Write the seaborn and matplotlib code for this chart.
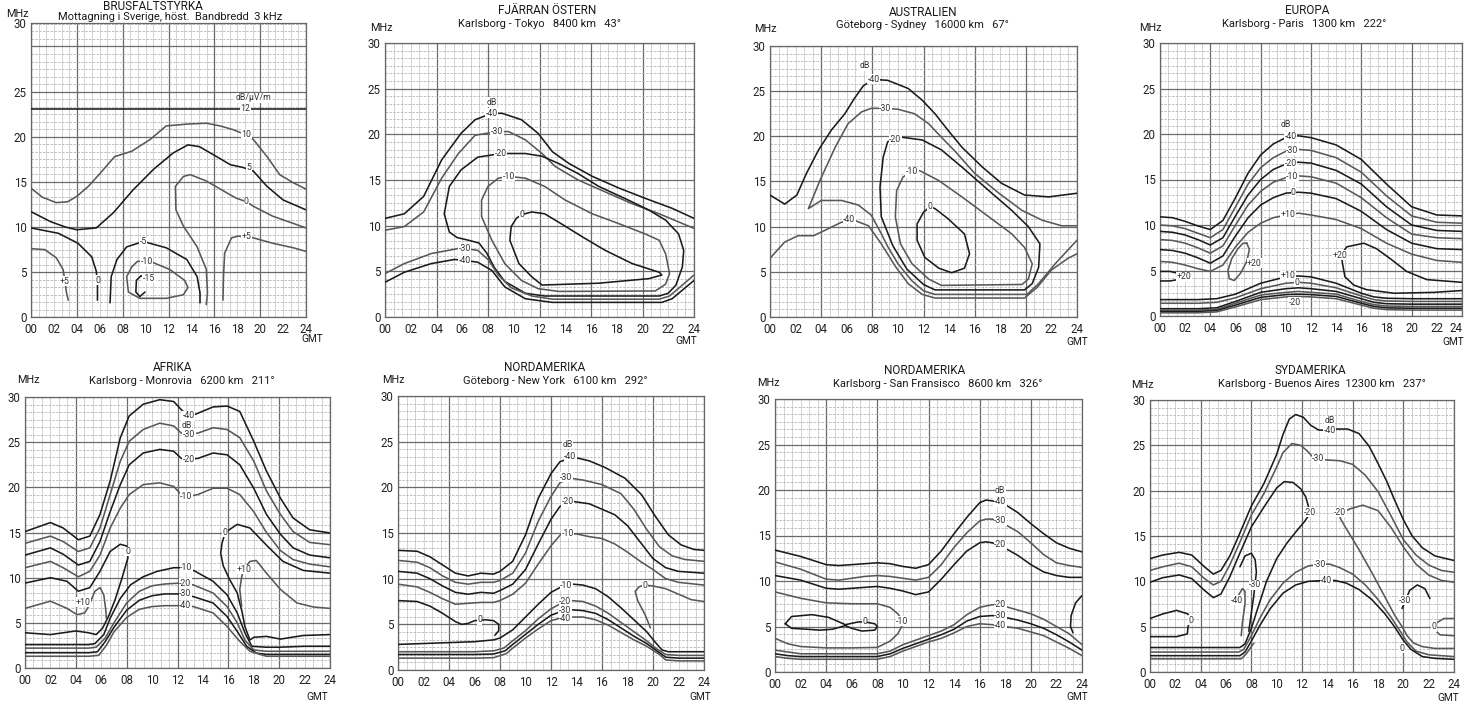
import matplotlib
matplotlib.use("Agg")
import matplotlib.pyplot as plt
import seaborn as sns

sns.set_theme(style="white")
plt.rcParams['font.family'] = ['Roboto', 'DejaVu Sans']

W, H = 1465, 704
HOUR_TICKS = list(range(0, 25, 2))
HOUR_LABELS = [f"{h:02d}" for h in HOUR_TICKS]

# ---------------- Panel 1: BRUSFALTSTYRKA ----------------
P1_12 = [(0, 23.1), (24, 23.1)]
P1_10 = [(0, 14.3), (1, 13.3), (2.2, 12.7), (3.2, 12.8), (4.0, 13.4), (5, 14.5), (6.0, 15.9), (7.3, 17.8), (8.8, 18.4),
         (10.4, 19.7), (11.8, 21.2), (13.6, 21.4), (15.3, 21.5), (16.5, 21.2), (17.6, 20.8), (18.6, 20.3), (19.4, 19.7),
         (20.6, 17.8), (21.7, 15.8), (22.9, 14.9), (24, 14.2)]
P1_5 = [(0, 11.7), (1.7, 10.6), (3, 10.0), (4.0, 9.7), (5.7, 9.9), (7.2, 11.6), (8.9, 14.1), (10.7, 16.4), (12.4, 18.2),
        (13.7, 19.1), (14.7, 18.9), (16.2, 17.8), (17.4, 16.9), (18.5, 16.6), (19.4, 16.2), (20.6, 14.5), (22.0, 13.0), (24, 11.9)]
P1_0R = [(15.3, 1.4), (15.4, 2.7), (15.3, 5.3), (14.5, 7.8), (13.3, 10.1), (12.65, 11.9), (12.6, 14.5), (13.3, 15.6),
         (13.9, 15.8), (15.3, 15.1), (16.8, 14.0), (17.9, 13.2), (18.8, 12.8), (19.4, 12.3), (21.1, 11.2), (24, 9.9)]
P1_M5 = [(6.9, 1.6), (7.0, 4.5), (7.5, 6.4), (8.35, 7.8), (9.8, 8.4), (11.8, 7.7), (13.6, 6.4), (14.5, 4.5), (14.75, 2.7), (14.75, 1.6)]
P1_M10 = [(10.4, 6.2), (12.1, 5.3), (13.4, 4.1), (13.7, 3.3), (13.3, 2.5), (11.8, 2.1), (9.5, 2.1), (8.5, 2.8), (8.35, 4.5),
          (8.8, 5.6), (9.3, 6.2), (10.4, 6.2)]
P1_M15 = [(9.95, 4.4), (9.6, 4.6), (9.2, 4.1), (9.15, 2.8), (9.5, 2.3), (9.95, 2.8)]
P1_P5L = [(0, 7.6), (1.2, 7.5), (2.2, 6.6), (2.8, 5.3), (2.97, 3.96), (3.1, 2.7), (3.25, 1.9)]
P1_0L = [(0, 9.9), (2.4, 9.3), (4.1, 8.2), (5.3, 6.7), (5.7, 5.1), (5.8, 3.5), (5.8, 1.9)]
P1_P5R = [(16.75, 1.9), (16.8, 4.5), (16.9, 7.1), (17.5, 8.8), (18.1, 9.0), (19.4, 8.8), (21.1, 8.2), (22.9, 7.7), (24, 7.3)]
P1_LABELS = [("dB/µV/m", 19.4, 24.3), ("12", 18.7, 23.1), ("10", 18.8, 20.3), ("5", 19.0, 16.6), ("0", 18.8, 12.8),
             ("+5", 18.8, 8.9), ("-5", 9.8, 8.4), ("-10", 10.1, 6.2), ("-15", 10.3, 4.3), ("+5", 2.9, 4.0), ("0", 5.8, 4.1)]

# ---------------- Panel 2: FJARRAN OSTERN ----------------
P2_40 = [(0, 10.8), (1.5, 11.3), (3.0, 13.2), (4.4, 17.2), (5.9, 20.1), (7.0, 21.6), (8.3, 22.3), (9.1, 22.3), (10.6, 21.6),
         (11.9, 20.1), (13.0, 18.1), (14.3, 16.8), (16.1, 15.4), (18.2, 14.1), (20.2, 13.0), (22.3, 11.9), (24, 10.8)]
P2_30 = [(0, 9.5), (1.5, 9.9), (3.0, 11.5), (4.4, 15.2), (5.7, 17.9), (7.0, 19.9), (8.7, 20.3), (9.6, 20.3), (10.9, 19.4),
         (12.2, 17.9), (13.2, 16.5), (15.0, 15.0), (17.1, 13.7), (19.2, 12.4), (21.3, 11.3), (24, 9.7)]
P2_20 = [(9.0, 17.9), (10.9, 17.9), (12.2, 17.6), (13.5, 16.8), (15.0, 15.7), (16.6, 14.3), (18.9, 12.8), (20.5, 11.7),
         (21.8, 10.6), (22.8, 9.1), (23.2, 7.3), (23.1, 5.5), (22.6, 3.5), (22.0, 2.6), (21.3, 2.3), (12.4, 2.3), (10.9, 2.6),
         (9.3, 3.9), (8.5, 5.4), (7.9, 7.0), (7.3, 8.1), (6.5, 8.4), (5.6, 8.7), (5.0, 9.3), (4.6, 11.3), (5.0, 14.3),
         (5.9, 16.1), (7.2, 17.5), (9.0, 17.9)]
P2_10 = [(9.6, 15.4), (10.9, 15.2), (12.4, 14.3), (14.0, 12.8), (16.1, 11.3), (18.2, 10.2), (20.2, 9.1), (21.3, 8.4),
         (21.8, 6.9), (22.1, 4.75), (21.8, 3.6), (21.0, 2.85), (13.5, 2.8), (11.9, 3.1), (10.6, 4.0), (9.3, 5.85), (8.3, 8.4),
         (7.5, 11.0), (7.5, 12.8), (8.0, 14.3), (8.8, 15.2), (9.6, 15.4)]
P2_0 = [(10.6, 11.2), (11.4, 11.5), (12.4, 11.3), (13.7, 10.2), (15.3, 8.8), (17.1, 7.3), (19.2, 5.85), (21.3, 4.9),
        (21.5, 4.6), (20.5, 4.2), (16.6, 3.7), (12.2, 3.5), (11.4, 4.4), (10.4, 5.85), (9.7, 8.4), (9.8, 9.9), (10.2, 10.8), (10.6, 11.2)]
P2_30L = [(0, 4.75), (1.5, 5.85), (3.6, 6.95), (5.7, 7.5), (6.2, 7.5), (7.2, 7.3), (8.0, 6.3), (8.8, 4.6), (9.8, 3.2),
          (11.4, 2.3), (13.0, 1.95), (21.3, 1.95), (22.1, 2.3), (23.1, 3.5), (24, 4.6)]
P2_40L = [(0, 3.8), (1.5, 4.9), (3.6, 5.85), (5.4, 6.3), (6.2, 6.2), (7.2, 6.0), (8.3, 5.1), (9.3, 3.3), (10.9, 2.0),
          (13.0, 1.6), (21.5, 1.6), (22.3, 2.0), (23.4, 3.3), (24, 4.0)]
P2_LABELS = [("dB", 8.3, 23.5), ("-40", 8.3, 22.3), ("-30", 8.7, 20.3), ("-20", 9.0, 17.9), ("-10", 9.6, 15.4),
             ("0", 10.6, 11.2), ("-30", 6.2, 7.5), ("-40", 6.2, 6.2)]

# ---------------- Panel 3: AUSTRALIEN ----------------
P3_40T = [(0, 13.5), (1.15, 12.5), (2.1, 13.5), (2.85, 15.9), (3.8, 18.5), (4.8, 20.7), (5.85, 22.5), (6.6, 24.2), (7.3, 25.6),
          (8.1, 26.3), (9.2, 26.2), (10.8, 25.3), (11.9, 24.0), (12.9, 22.5), (13.9, 20.7), (15.0, 18.8), (16.6, 16.6),
          (18.1, 14.8), (19.9, 13.5), (21.8, 13.3), (24, 13.7)]
P3_30 = [(24, 10.1), (22.8, 10.1), (21.3, 10.7), (19.7, 11.8), (17.9, 13.7), (16.0, 15.9), (14.5, 18.3), (13.4, 19.9),
         (12.4, 21.4), (11.3, 22.5), (10.0, 23.0), (9.0, 23.1), (7.9, 23.1), (7.15, 22.7), (6.1, 21.4), (5.1, 18.8), (3.9, 15.1),
         (3.0, 12.0), (4.0, 12.9), (5.6, 12.9), (6.9, 12.4), (7.9, 11.3), (8.6, 9.5), (9.2, 7.8), (10.0, 5.9), (11.1, 4.0),
         (12.0, 2.9), (12.9, 2.5), (20.1, 2.5), (21.0, 3.7), (22.3, 5.9), (24, 8.5)]
P3_20 = [(9.8, 19.7), (10.3, 19.9), (11.9, 19.6), (13.4, 18.5), (15.0, 16.6), (17.1, 14.0), (18.9, 11.8), (20.2, 10.0),
         (21.1, 8.1), (21.0, 5.5), (20.5, 3.7), (19.9, 3.0), (12.9, 3.0), (12.0, 3.6), (10.7, 5.3), (9.6, 7.9), (8.7, 11.1),
         (8.6, 14.4), (8.85, 17.7), (9.2, 19.4), (9.8, 19.7)]
P3_10 = [(11.1, 16.1), (11.7, 16.2), (13.2, 15.1), (15.0, 13.3), (17.1, 11.1), (18.9, 9.2), (19.9, 7.7), (20.5, 5.9),
         (20.2, 4.2), (19.7, 3.6), (13.4, 3.5), (12.4, 4.2), (11.1, 5.9), (10.2, 8.1), (9.8, 11.1), (9.9, 14.0), (10.4, 15.5), (11.1, 16.1)]
P3_0 = [(12.5, 12.2), (12.9, 12.0), (13.9, 10.9), (15.2, 9.2), (15.6, 7.0), (15.2, 5.4), (14.2, 4.9), (13.2, 5.4), (12.1, 6.6),
        (11.5, 8.5), (11.5, 10.3), (12.0, 11.6), (12.5, 12.2)]
P3_40L = [(0, 6.5), (1.15, 8.3), (2.2, 9.0), (3.4, 9.0), (4.3, 9.6), (5.6, 10.5), (6.6, 10.7), (7.7, 10.1), (8.7, 8.1),
          (9.8, 5.6), (10.8, 3.7), (11.9, 2.5), (12.9, 2.1), (19.9, 2.1), (20.9, 3.3), (22.0, 5.2), (23.3, 6.5), (24, 7.0)]
P3_LABELS = [("dB", 7.4, 27.8), ("-40", 8.1, 26.3), ("-30", 9.0, 23.1), ("-20", 9.8, 19.7), ("-10", 11.1, 16.1),
             ("0", 12.5, 12.2), ("-40", 6.2, 10.8)]

# ---------------- Panel 4: EUROPA ----------------
P4_UH = [0, 1, 2, 3, 4, 5, 6, 7, 8, 9, 10, 11, 12, 14, 16, 18, 20, 22, 24]
P4_M40 = [10.9, 10.8, 10.4, 9.9, 9.5, 10.5, 13.0, 15.7, 17.7, 18.9, 19.6, 19.8, 19.6, 18.8, 17.2, 14.5, 12.0, 11.1, 11.0]
P4_M30 = [10.0, 9.9, 9.6, 9.1, 8.6, 9.5, 12.0, 14.5, 16.3, 17.4, 18.1, 18.3, 18.2, 17.4, 15.8, 13.2, 11.0, 10.3, 10.2]
P4_M20 = [9.3, 9.2, 8.9, 8.4, 7.8, 8.6, 11.0, 13.3, 15.0, 16.1, 16.7, 16.9, 16.8, 16.0, 14.5, 12.0, 10.0, 9.4, 9.3]
P4_M10 = [8.4, 8.3, 8.0, 7.5, 6.9, 7.7, 10.0, 12.2, 13.7, 14.7, 15.2, 15.4, 15.3, 14.6, 13.0, 10.8, 9.0, 8.6, 8.5]
P4_Z0 = [7.3, 7.2, 6.9, 6.4, 5.8, 6.6, 8.8, 10.8, 12.2, 13.0, 13.5, 13.6, 13.5, 12.9, 11.5, 9.5, 8.0, 7.4, 7.3]
P4_P10 = [6.0, 5.9, 5.6, 5.2, 4.9, 5.6, 7.6, 9.2, 10.2, 10.8, 11.1, 11.3, 11.1, 10.6, 9.6, 8.0, 6.8, 6.1, 5.9]
P4_BH = [0, 3, 4.5, 6, 8, 10, 11, 12, 14, 16, 17, 18, 20, 24]
P4_B10 = [1.8, 1.8, 1.9, 2.4, 3.6, 4.3, 4.4, 4.3, 3.6, 2.5, 2.1, 1.95, 1.9, 1.9]
P4_B0 = [1.4, 1.4, 1.5, 2.0, 3.0, 3.6, 3.7, 3.6, 3.1, 2.2, 1.8, 1.65, 1.6, 1.6]
P4_BM10 = [0.8, 0.8, 0.9, 1.6, 2.6, 3.0, 3.1, 3.0, 2.7, 1.9, 1.5, 1.35, 1.3, 1.3]
P4_BM20 = [0.65, 0.65, 0.75, 1.4, 2.3, 2.6, 2.7, 2.6, 2.4, 1.6, 1.25, 1.1, 1.05, 1.05]
P4_BM30 = [0.5, 0.5, 0.6, 1.2, 2.05, 2.35, 2.4, 2.35, 2.15, 1.4, 1.05, 0.9, 0.85, 0.85]
P4_BM40 = [0.35, 0.35, 0.45, 1.0, 1.8, 2.1, 2.15, 2.1, 1.9, 1.2, 0.85, 0.7, 0.65, 0.65]
P4_P20L = [(0, 4.9), (0.8, 4.9), (1.4, 4.7), (1.75, 4.35), (1.4, 4.0), (0.8, 3.85), (0, 3.85)]
P4_P20M = [(6.9, 8.0), (7.1, 7.3), (6.9, 6.0), (6.4, 4.7), (5.9, 3.9), (5.5, 4.1), (5.4, 5.0), (5.7, 6.3), (6.2, 7.4), (6.6, 8.0), (6.9, 8.0)]
P4_P20R = [(24, 3.7), (21.2, 4.0), (19.6, 4.9), (18.3, 6.3), (17.2, 7.4), (16.2, 8.0), (14.85, 7.6), (14.4, 6.8), (14.5, 5.8),
           (14.7, 4.3), (15.4, 3.4), (16.4, 2.9), (18.6, 2.5), (21.8, 2.6), (24, 2.8)]
P4_LABELS = [("dB", 10.0, 21.0), ("-40", 10.4, 19.7), ("-30", 10.5, 18.2), ("-20", 10.4, 16.8), ("-10", 10.5, 15.3),
             ("0", 10.6, 13.6), ("+10", 10.2, 11.2), ("+10", 10.2, 4.4), ("0", 10.9, 3.7), ("-20", 10.7, 1.5),
             ("+20", 1.9, 4.3), ("+20", 7.5, 5.8), ("+20", 14.3, 6.7)]

# ---------------- Panel 5: AFRIKA ----------------
P5_H = [0, 2.0, 3.0, 4.2, 5.1, 5.9, 6.7, 7.5, 8.2, 9.3, 10.6, 11.7, 12.3, 12.9, 13.6, 14.8, 15.9, 16.9, 18.0, 19.0, 20.1, 21.1, 22.4, 24]
P5_M40 = [15.1, 16.1, 15.5, 14.2, 14.6, 17.0, 20.7, 25.5, 27.9, 29.2, 29.7, 29.5, 28.6, 27.8, 28.2, 28.9, 29.0, 28.4, 25.1, 21.8, 18.8, 16.6, 15.3, 14.95]
P5_M30 = [13.8, 14.6, 14.0, 12.9, 13.3, 15.5, 19.2, 22.9, 25.1, 26.4, 27.1, 26.8, 26.0, 25.9, 26.0, 26.6, 26.4, 25.5, 22.9, 19.6, 17.0, 15.1, 13.9, 13.65]
P5_M20 = [12.5, 13.3, 12.6, 11.4, 11.8, 14.0, 17.3, 20.3, 22.5, 23.8, 24.2, 24.0, 23.2, 23.1, 23.2, 23.8, 23.6, 22.5, 19.9, 17.0, 14.8, 13.3, 12.5, 12.2]
P5_M10 = [11.1, 11.8, 11.1, 10.1, 10.7, 12.5, 15.5, 17.7, 19.2, 20.3, 20.5, 20.1, 19.2, 19.0, 19.2, 19.9, 19.9, 19.2, 17.3, 15.0, 13.0, 12.0, 11.5, 11.2]
P5_0L = [(0, 9.4), (2.0, 10.0), (3.3, 9.6), (4.2, 8.5), (5.1, 8.9), (5.9, 10.7), (6.7, 12.9), (7.5, 13.7), (8.0, 13.5),
         (8.1, 12.2), (7.6, 9.8), (7.1, 7.6), (6.6, 5.8), (6.1, 4.4), (5.6, 3.7), (5.0, 3.9), (4.0, 4.1), (2.0, 3.7), (0, 3.9)]
P5_P10L = [(0, 6.6), (2.0, 7.4), (3.3, 6.6), (4.1, 5.9), (4.7, 6.1), (5.0, 6.8), (5.5, 8.5), (5.9, 8.9), (6.2, 8.1), (6.35, 6.5), (6.4, 5.5)]
P5_0R = [(24, 3.7), (21.9, 3.6), (20.1, 3.2), (19, 3.5), (18, 3.4), (17.7, 3.1), (17.3, 4.6), (17.1, 6.1), (16.7, 8.3),
         (16.1, 9.8), (15.6, 11.3), (15.4, 12.7), (15.5, 13.8), (15.75, 15.0), (16.7, 15.9), (17.7, 15.5), (19.0, 13.6),
         (20.3, 11.8), (21.9, 10.8), (24, 10.5)]
P5_P10R = [(17.05, 6.8), (16.9, 8.7), (17.05, 10.1), (17.2, 10.9), (17.7, 11.8), (18.2, 11.9), (19.0, 10.5), (20.1, 8.7),
           (21.4, 7.2), (22.7, 6.75), (24, 6.6)]
P5_M10L = [(0, 2.6), (5, 2.6), (5.5, 2.7), (6.2, 3.7), (6.7, 5.5), (7.5, 7.7), (8.3, 9.2), (9.3, 10.1), (10.4, 10.7),
           (11.7, 11.1), (12.7, 11.1), (13.4, 10.7), (14.8, 9.6), (15.9, 8.1), (16.7, 6.1), (17.3, 3.9), (17.85, 2.4),
           (19, 2.3), (20, 2.3), (22, 2.4), (24, 2.4)]
P5_M20L = [(0, 2.2), (5, 2.2), (5.6, 2.3), (6.3, 3.3), (7, 5.0), (8, 7.2), (9, 8.5), (10, 9.1), (11, 9.3), (12.2, 9.4),
           (13.25, 9.2), (14.8, 8.3), (15.9, 6.8), (16.7, 5.0), (17.3, 3.1), (18.0, 2.0), (19, 1.85), (24, 1.85)]
P5_M30L = [(0, 1.7), (5, 1.7), (5.7, 1.8), (6.3, 2.9), (7, 4.5), (8, 6.4), (9, 7.5), (10, 8.0), (11, 8.2), (12.2, 8.2),
           (13.25, 7.9), (14.8, 7.2), (15.9, 5.7), (16.7, 4.05), (17.45, 2.4), (18.2, 1.65), (19, 1.5), (24, 1.5)]
P5_M40L = [(0, 1.3), (5, 1.3), (5.8, 1.4), (6.4, 2.5), (7, 4.0), (8, 5.6), (9, 6.5), (10, 6.8), (11, 6.9), (12.2, 6.9),
           (13.25, 6.8), (14.8, 6.1), (15.9, 4.6), (16.8, 3.1), (17.7, 1.85), (18.5, 1.5), (19, 1.3), (24, 1.3)]
P5_LABELS = [("-40", 12.9, 27.9), ("dB", 12.7, 26.9), ("-30", 12.9, 25.9), ("-20", 12.9, 23.1), ("-10", 12.7, 19.0),
             ("0", 15.75, 15.0), ("0", 8.1, 12.9), ("+10", 4.6, 7.3), ("+10", 17.2, 10.9), ("-10", 12.7, 11.1),
             ("-20", 12.6, 9.4), ("-30", 12.6, 8.2), ("-40", 12.6, 6.9)]

# ---------------- Panel 6: NORDAMERIKA (New York) ----------------
P6_40 = [(0, 13.1), (1.5, 13.0), (2.5, 12.4), (3.5, 11.5), (4.5, 10.6), (5.5, 10.3), (6.5, 10.6), (7.5, 10.5), (8, 10.8),
         (9, 11.9), (10, 14.8), (11, 18.8), (12, 21.5), (12.7, 22.8), (13.5, 23.2), (14.1, 23.2), (15, 22.9), (16.2, 22.2),
         (17.8, 21.0), (19.1, 19.2), (20.1, 17.0), (21.2, 14.8), (22.2, 13.7), (23.2, 13.2), (24, 13.1)]
P6_30 = [(0, 12.0), (1.5, 11.8), (2.5, 11.2), (3.5, 10.3), (4.5, 9.6), (5.5, 9.4), (6.5, 9.6), (7.5, 9.6), (8, 9.8),
         (9, 10.6), (10, 12.8), (11, 16.3), (12, 19.0), (12.7, 20.5), (13.5, 21.0), (14.5, 20.8), (16, 20.3), (17.5, 19.3),
         (18.5, 17.6), (19.5, 15.4), (20.5, 13.5), (21.5, 12.5), (22.5, 12.1), (24, 11.9)]
P6_20 = [(0, 10.8), (1.5, 10.6), (2.5, 10.0), (3.5, 9.2), (4.5, 8.5), (5.5, 8.3), (6.5, 8.5), (7.5, 8.4), (8, 8.7),
         (9, 9.4), (10, 11.0), (11, 13.8), (12, 16.5), (12.7, 17.9), (13.5, 18.5), (15, 18.2), (16, 17.6), (17, 17.0),
         (18, 15.8), (19, 14.0), (20, 12.2), (21, 11.2), (22, 10.8), (24, 10.6)]
P6_10 = [(0, 9.4), (1.5, 9.1), (2.5, 8.5), (3.5, 7.8), (4.5, 7.2), (5.5, 7.3), (6.5, 7.4), (7.5, 7.4), (8, 7.6), (9, 8.3),
         (10, 9.5), (11, 11.6), (12, 13.6), (12.8, 14.9), (14, 14.9), (15, 14.6), (16, 14.4), (17, 13.8), (18, 12.9),
         (19, 11.9), (20, 11.0), (21, 10.0), (22, 9.6), (24, 9.3)]
P6_0L = [(0, 7.6), (1.5, 7.5), (2.5, 7.0), (3.5, 6.2), (4.5, 5.3), (5, 5.0), (5.5, 5.1), (6, 5.4), (6.9, 5.5), (7.5, 5.4),
         (7.9, 5.0), (7.9, 4.3), (7.6, 3.8)]
P6_0R = [(19.8, 4.6), (19.4, 6.0), (18.8, 7.6), (18.6, 8.6), (18.9, 9.1), (19.3, 9.3), (20, 9.2), (21, 8.9), (22, 8.3),
         (23, 7.7), (24, 7.5)]
P6_10L = [(0, 2.8), (2, 2.9), (4, 3.0), (6, 3.1), (7.5, 3.3), (8, 3.5), (9, 4.4), (10, 5.8), (11, 7.2), (12, 8.5),
          (12.8, 9.1), (13.7, 9.4), (14.5, 9.3), (15.5, 8.9), (16.5, 8.0), (17.5, 6.8), (18.5, 5.5), (19.5, 4.2), (20.2, 3.0),
          (20.7, 2.2), (21.2, 2.0), (22, 2.0), (24, 2.0)]
P6_20L = [(0, 2.0), (3, 2.0), (6, 2.0), (7.5, 2.1), (8.3, 2.4), (9, 3.2), (10, 4.3), (11, 5.6), (12, 6.7), (12.8, 7.3),
          (13.6, 7.6), (14.5, 7.5), (15.5, 7.0), (16.5, 6.2), (17.5, 5.2), (18.5, 4.2), (19.5, 3.2), (20.3, 2.3), (21, 1.7),
          (22, 1.6), (24, 1.6)]
P6_30L = [(0, 1.7), (3, 1.7), (6, 1.7), (7.5, 1.75), (8.4, 2.1), (9, 2.8), (10, 3.9), (11, 5.0), (12, 6.0), (12.8, 6.4),
          (13.6, 6.6), (14.5, 6.5), (15.5, 6.2), (16.5, 5.5), (17.5, 4.6), (18.5, 3.7), (19.5, 2.9), (20.4, 2.0), (21, 1.4),
          (22, 1.3), (24, 1.3)]
P6_40L = [(0, 1.3), (3, 1.3), (6, 1.3), (7.5, 1.35), (8.5, 1.8), (9, 2.4), (10, 3.5), (11, 4.5), (12, 5.4), (12.8, 5.7),
          (13.6, 5.8), (14.5, 5.8), (15.5, 5.5), (16.5, 4.9), (17.5, 4.1), (18.5, 3.3), (19.5, 2.6), (20.5, 1.7), (21, 1.1),
          (22, 1.0), (24, 1.0)]
P6_LABELS = [("dB", 13.3, 24.7), ("-40", 13.5, 23.4), ("-30", 13.2, 21.1), ("-20", 13.3, 18.4), ("-10", 13.3, 15.0),
             ("0", 19.4, 9.3), ("0", 6.4, 5.5), ("-10", 13.2, 9.3), ("-20", 13.1, 7.5), ("-30", 13.1, 6.5), ("-40", 13.1, 5.6)]

# ---------------- Panel 7: NORDAMERIKA (San Fransisco) ----------------
P7_H = [0, 2, 4, 5, 6, 7, 8, 9, 10, 11, 12, 13, 14, 15, 16, 16.5, 17, 18, 19, 20, 21, 22, 23, 24]
P7_M40 = [13.4, 12.7, 11.8, 11.7, 11.8, 11.9, 12.0, 11.9, 11.6, 11.4, 11.8, 13.3, 15.2, 17.0, 18.6, 18.9, 18.8, 18.4, 17.5, 16.3, 15.2, 14.2, 13.6, 13.2]
P7_M30 = [12.1, 11.3, 10.2, 10.1, 10.3, 10.5, 10.6, 10.5, 10.3, 10.1, 10.4, 11.8, 13.7, 15.3, 16.6, 16.8, 16.8, 16.2, 15.4, 14.2, 12.9, 12.0, 11.7, 11.5]
P7_M20 = [10.6, 10.1, 9.2, 9.1, 9.2, 9.3, 9.4, 9.2, 8.9, 8.5, 8.8, 10.2, 11.8, 13.3, 14.2, 14.3, 14.2, 13.6, 12.8, 11.8, 11.0, 10.6, 10.4, 10.4]
P7_10 = [(0, 8.8), (2, 8.1), (4, 7.6), (6, 7.5), (8, 7.5), (9, 7.1), (9.6, 6.4), (9.9, 5.8), (9.9, 5.0), (9.6, 4.2),
         (9.0, 3.4), (8, 2.7), (6, 2.65), (4, 2.65), (2, 2.8), (1, 3.1), (0, 3.7)]
P7_0 = [(0.8, 5.3), (1.3, 6.1), (2.9, 6.3), (4.2, 6.0), (5.5, 5.2), (6.5, 5.5), (7.05, 5.5), (7.8, 5.3), (8.0, 5.0),
        (7.8, 4.6), (6.8, 4.5), (6.0, 4.8), (5.5, 5.1), (4.5, 4.7), (3.5, 4.6), (2.5, 4.7), (1.3, 4.8), (0.8, 5.3)]
P7_20L = [(0, 2.4), (1, 2.2), (2, 2.0), (8, 2.0), (9, 2.3), (10, 3.0), (11, 3.5), (12, 4.0), (13, 4.5), (14, 5.2), (15, 6.3),
          (16, 7.1), (17, 7.4), (18, 7.2), (19, 6.8), (20, 6.4), (21, 5.8), (22, 5.0), (23, 4.2), (24, 3.0)]
P7_30L = [(0, 2.0), (1, 1.8), (2, 1.7), (8, 1.7), (9, 2.0), (10, 2.6), (11, 3.1), (12, 3.6), (13, 4.1), (14, 4.7), (15, 5.6),
          (16, 6.1), (17, 6.2), (18, 6.0), (19, 5.7), (20, 5.3), (21, 4.8), (22, 4.1), (23, 3.3), (24, 2.4)]
P7_40L = [(0, 1.7), (1, 1.5), (2, 1.4), (8, 1.4), (9, 1.7), (10, 2.3), (11, 2.8), (12, 3.3), (13, 3.7), (14, 4.3), (15, 5.0),
          (16, 5.3), (17, 5.2), (18, 5.0), (19, 4.8), (20, 4.4), (21, 4.0), (22, 3.3), (23, 2.6), (24, 1.8)]
P7_ARC = [(24, 8.4), (23.5, 7.6), (23.15, 6.2), (23.1, 5.0), (23.3, 4.3)]
P7_LABELS = [("dB", 17.6, 19.9), ("-40", 17.6, 18.7), ("-30", 17.6, 16.6), ("-20", 17.6, 14.0), ("-20", 17.6, 7.4),
             ("-30", 17.6, 6.2), ("-40", 17.6, 5.1), ("-10", 9.95, 5.6), ("0", 7.0, 5.5)]

# ---------------- Panel 8: SYDAMERIKA ----------------
P8_40 = [(0, 12.5), (1, 12.9), (2.3, 13.2), (3.3, 12.9), (4.3, 11.6), (5, 10.8), (5.6, 11.2), (6.3, 12.8), (7, 15.0),
         (8, 18.3), (9, 20.8), (10, 24.0), (10.5, 26.2), (11, 27.9), (11.5, 28.4), (12.1, 28.1), (12.7, 27.2), (13.3, 26.7),
         (14.2, 26.6), (14.8, 26.8), (15.6, 26.8), (16.5, 26.3), (17.3, 24.9), (18, 23.0), (18.7, 21.0), (19.3, 19.0),
         (20, 16.8), (20.7, 15.0), (21.5, 13.7), (22.5, 12.8), (24, 12.3)]
P8_30 = [(0, 11.2), (1, 11.6), (2.3, 12.0), (3.3, 11.6), (4.3, 10.3), (5, 9.6), (5.6, 10.0), (6.3, 11.8), (7, 14.0),
         (8, 17.3), (9, 19.7), (10, 22.6), (10.5, 24.2), (11.2, 25.2), (11.9, 25.0), (12.4, 24.4), (12.8, 23.8), (13.3, 23.5),
         (13.8, 23.4), (15, 23.3), (16, 22.9), (17, 21.7), (18, 19.9), (19, 17.3), (20, 14.6), (21, 12.9), (22, 11.8),
         (23, 11.2), (24, 11.0)]
P8_20 = [(0, 9.9), (1, 10.4), (2.3, 10.7), (3.3, 10.3), (4.3, 9.0), (5, 8.2), (5.6, 8.6), (6.3, 10.5), (7, 12.8), (8, 16.0),
         (9, 18.2), (10, 20.3), (10.6, 21.0), (11.3, 20.9), (11.9, 20.2), (12.3, 19.3), (12.5, 18.3), (12.5, 17.2),
         (12.2, 16.6), (11.6, 15.6), (10.8, 14.2), (10.0, 12.5), (9.2, 10.0), (8.5, 7.0), (8.0, 4.8), (7.5, 3.1), (7.1, 2.7), (0, 2.7)]
P8_20R = [(24, 9.9), (23, 10.1), (22, 10.7), (21, 11.9), (20, 13.8), (19, 16.0), (18, 17.8), (16.8, 18.4), (15.8, 18.0),
          (15.2, 17.6), (15.0, 17.0), (15.5, 15.8), (16.5, 13.5), (17.5, 11.0), (18.5, 8.4), (19.3, 6.3), (19.9, 5.0),
          (20.3, 4.0), (20.8, 3.2), (21.5, 2.8), (22.5, 2.6), (24, 2.6)]
P8_HOOK30 = [(7.1, 11.6), (7.5, 12.8), (8.0, 13.1), (8.3, 12.4), (8.4, 11.0), (8.3, 9.8), (8.2, 8.5), (8.0, 6.5), (7.8, 4.5)]
P8_HOOK40 = [(7.0, 8.5), (7.3, 9.2), (7.5, 8.9), (7.5, 7.5), (7.3, 5.5), (7.2, 4.0)]
P8_0L = [(0, 5.9), (1, 6.4), (2.1, 6.8), (3.0, 6.4), (3.2, 5.7), (3.0, 5.0), (2.95, 4.2), (2.1, 3.9), (1, 3.9), (0, 3.9)]
P8_30A = [(0, 2.2), (7.0, 2.2), (7.4, 2.5), (8.0, 4.0), (8.7, 6.0), (9.5, 8.0), (10.5, 9.8), (11.5, 11.0), (12.5, 11.7),
          (13.4, 11.9), (14.2, 11.9), (15, 11.5), (16, 10.8), (17, 9.6), (18, 8.0), (19, 6.1), (19.8, 4.4), (20.3, 3.3),
          (21, 2.3), (22, 1.9), (23, 1.8), (24, 1.7)]
P8_40A = [(0, 1.8), (7.1, 1.8), (7.5, 2.2), (8.0, 3.4), (8.7, 5.2), (9.5, 7.0), (10.5, 8.7), (11.5, 9.6), (12.5, 10.0),
          (13.9, 10.1), (14.6, 10.1), (15.5, 9.8), (16.5, 9.1), (17.5, 8.0), (18.5, 6.5), (19.3, 5.0), (20, 3.5), (20.6, 2.5),
          (21.5, 1.7), (22.5, 1.5), (24, 1.4)]
P8_BOT = [(0, 1.45), (7.2, 1.45), (7.6, 2.0), (8.2, 3.2)]
P8_HUMP = [(19.9, 7.0), (20.5, 9.0), (21.1, 9.6), (21.7, 9.2), (22.1, 8.1)]
P8_0R = [(24, 5.9), (23.2, 5.9), (22.6, 5.4), (22.5, 4.6), (22.9, 4.1), (24, 4.0)]
P8_LABELS = [("dB", 14.2, 27.7), ("-40", 14.2, 26.6), ("-30", 13.3, 23.5), ("-20", 12.6, 17.6), ("-20", 15.0, 17.6),
             ("-30", 13.4, 11.9), ("-40", 13.9, 10.1), ("-30", 8.3, 9.6), ("-40", 6.9, 7.9), ("0", 3.2, 5.7),
             ("-30", 20.1, 7.9), ("0", 22.4, 5.0), ("0", 19.9, 2.6)]

# ---------------- Layout (pixel boxes: left, top, right, bottom) ----------------
fig = plt.figure(figsize=(W / 100, H / 100), dpi=100)
fig.patch.set_facecolor("white")

LINE_COLORS = ["#1b1b1b", "#585858"]


def make_axes(box):
    l, t, r, b = box
    return fig.add_axes([l / W, 1 - b / H, (r - l) / W, (b - t) / H])


def draw_grid(ax, top):
    for i in range(37):
        v = i * 2 / 3
        major = (i % 6 == 0)
        ax.axvline(v, color="#6a6a6a" if major else "#c6c6c6", lw=0.9 if major else 0.55, zorder=1)
    j = 0
    while j * 5 / 6 <= top + 1e-6:
        y = j * 5 / 6
        major = (j % 6 == 0)
        if major:
            ax.axhline(y, color="#6a6a6a", lw=0.9, zorder=1)
        else:
            ax.axhline(y, color="#b4b4b4", lw=0.6, ls=(0, (3, 1.6)), zorder=1)
        j += 1


def draw_curve(ax, pts, i):
    hx = [p[0] for p in pts]
    fy = [p[1] for p in pts]
    sns.lineplot(x=hx, y=fy, sort=False, estimator=None, ax=ax, color=LINE_COLORS[i % 2],
                 lw=1.15, legend=False, zorder=3)


def draw_labels(ax, labels):
    for s, hx, fy in labels:
        ax.text(hx, fy, s, fontsize=6.3, ha="center", va="center", color="#333333", zorder=5,
                bbox=dict(boxstyle="square,pad=0.05", fc="white", ec="none"))


def finish(ax, top, ytick_pos, ytick_lab, last_right):
    ax.set_xlim(0, 24)
    ax.set_ylim(0, top)
    ax.set_xticks(HOUR_TICKS)
    ax.set_xticklabels(HOUR_LABELS)
    ax.set_yticks(ytick_pos)
    ax.set_yticklabels(ytick_lab)
    ax.tick_params(axis="x", length=0, labelsize=8.3, pad=4, colors="#222222")
    ax.tick_params(axis="y", length=0, labelsize=8.3, pad=3, colors="#222222")
    if last_right:
        ax.get_xticklabels()[-1].set_horizontalalignment("right")
    ax.set_xlabel("")
    ax.set_ylabel("")
    for s in ax.spines.values():
        s.set_color("#666666")
        s.set_linewidth(0.9)
    ax.set_facecolor("white")


def pairs(hs, fs):
    return list(zip(hs, fs))


PANELS = [
    dict(box=(31, 23, 306, 317.3), top=32.6,
         yt=([0, 5, 10, 15, 20, 25, 32.6], ["0", "5", "10", "15", "20", "25", "30"]),
         curves=[P1_12, P1_10, P1_5, P1_0R, P1_M5, P1_M10, P1_M15, P1_P5L, P1_0L, P1_P5R], labels=P1_LABELS,
         title=("BRUSFÄLTSTYRKA", 153, 7), sub=("Mottagning i Sverige, höst.  Bandbredd  3 kHz", 170, 17.5),
         mhz=(17, 14), gmt=(312, 339), gmt_ha="center"),
    dict(box=(385, 43, 694, 317), top=30, yt=None,
         curves=[P2_40, P2_30, P2_20, P2_10, P2_0, P2_30L, P2_40L], labels=P2_LABELS,
         title=("FJÄRRAN ÖSTERN", 547, 11), sub=("Karlsborg - Tokyo   8400 km   43°", 540, 24),
         mhz=(381, 28), gmt=(686, 341), gmt_ha="center"),
    dict(box=(770, 46, 1077, 317), top=30, yt=None,
         curves=[P3_40T, P3_30, P3_20, P3_10, P3_0, P3_40L], labels=P3_LABELS,
         title=("AUSTRALIEN", 923, 12), sub=("Göteborg - Sydney   16000 km   67°", 922, 25),
         mhz=(765, 29), gmt=(1077, 342), gmt_ha="center"),
    dict(box=(1160, 43, 1462, 316), top=30, yt=None,
         curves=[pairs(P4_UH, P4_M40), pairs(P4_UH, P4_M30), pairs(P4_UH, P4_M20), pairs(P4_UH, P4_M10),
                 pairs(P4_UH, P4_Z0), pairs(P4_UH, P4_P10), pairs(P4_BH, P4_B10), pairs(P4_BH, P4_B0),
                 pairs(P4_BH, P4_BM10), pairs(P4_BH, P4_BM20), pairs(P4_BH, P4_BM30), pairs(P4_BH, P4_BM40),
                 P4_P20L, P4_P20M, P4_P20R], labels=P4_LABELS,
         title=("EUROPA", 1307, 11), sub=("Karlsborg - Paris   1300 km   222°", 1304, 24),
         mhz=(1150, 28), gmt=(1464, 342), gmt_ha="right", last_right=True),
    dict(box=(25, 397, 330, 668), top=30, yt=None,
         curves=[pairs(P5_H, P5_M40), pairs(P5_H, P5_M30), pairs(P5_H, P5_M20), pairs(P5_H, P5_M10),
                 P5_0L, P5_P10L, P5_0R, P5_P10R, P5_M10L, P5_M20L, P5_M30L, P5_M40L], labels=P5_LABELS,
         title=("AFRIKA", 173, 367), sub=("Karlsborg - Monrovia   6200 km   211°", 182, 381),
         mhz=(28, 380), gmt=(317, 697), gmt_ha="center"),
    dict(box=(398, 396, 704, 670), top=30, yt=None,
         curves=[P6_40, P6_30, P6_20, P6_10, P6_0L, P6_0R, P6_10L, P6_20L, P6_30L, P6_40L], labels=P6_LABELS,
         title=("NORDAMERIKA", 545, 367), sub=("Göteborg - New York   6100 km   292°", 555, 381),
         mhz=(393, 380), gmt=(700, 697), gmt_ha="center"),
    dict(box=(775, 399, 1082, 672), top=30, yt=None,
         curves=[pairs(P7_H, P7_M40), pairs(P7_H, P7_M30), pairs(P7_H, P7_M20), P7_10, P7_0,
                 P7_20L, P7_30L, P7_40L, P7_ARC], labels=P7_LABELS,
         title=("NORDAMERIKA", 925, 371), sub=("Karlsborg - San Fransisco   8600 km   326°", 938, 384),
         mhz=(768, 383), gmt=(1077, 697), gmt_ha="center"),
    dict(box=(1150, 400, 1454, 672), top=30, yt=None,
         curves=[P8_40, P8_30, P8_20, P8_20R, P8_HOOK30, P8_HOOK40, P8_0L, P8_30A, P8_40A, P8_BOT, P8_HUMP, P8_0R],
         labels=P8_LABELS,
         title=("SYDAMERIKA", 1310, 371), sub=("Karlsborg - Buenos Aires  12300 km   237°", 1322, 384),
         mhz=(1142, 385), gmt=(1448, 698), gmt_ha="center"),
]

for p in PANELS:
    ax = make_axes(p["box"])
    draw_grid(ax, p["top"])
    for i, c in enumerate(p["curves"]):
        draw_curve(ax, c, i)
    draw_labels(ax, p["labels"])
    if p["yt"] is None:
        yt = ([0, 5, 10, 15, 20, 25, 30], ["0", "5", "10", "15", "20", "25", "30"])
    else:
        yt = p["yt"]
    finish(ax, p["top"], yt[0], yt[1], p.get("last_right", False))
    s, x, y = p["title"]
    fig.text(x / W, 1 - y / H, s, ha="center", va="center", fontsize=8.5, color="#1a1a1a")
    s, x, y = p["sub"]
    fig.text(x / W, 1 - y / H, s, ha="center", va="center", fontsize=8, color="#1a1a1a")
    x, y = p["mhz"]
    fig.text(x / W, 1 - y / H, "MHz", ha="center", va="center", fontsize=7.8, color="#1a1a1a")
    x, y = p["gmt"]
    fig.text(x / W, 1 - y / H, "GMT", ha=p["gmt_ha"], va="center", fontsize=7.3, color="#1a1a1a")

fig.savefig("out.png", dpi=100, facecolor="white")
